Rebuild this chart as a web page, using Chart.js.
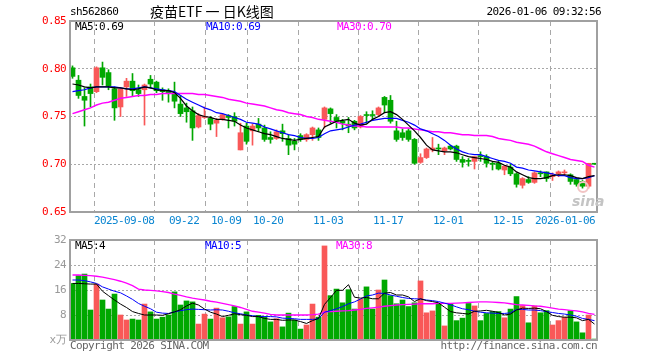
<!DOCTYPE html>
<html>
<head>
<meta charset="utf-8">
<script src="https://cdn.jsdelivr.net/npm/chart.js@4.4.1/dist/chart.umd.min.js"></script>
<style>
  body { margin: 0; background: #fff; }
  #wrap { position: relative; width: 660px; height: 360px; overflow: hidden; }
  canvas { position: absolute; left: 0; }
  #kline { top: 0; }
  #vol { top: 232px; }
  .t { position: absolute; font: 11px 'DejaVu Sans Mono', monospace; letter-spacing: -0.6px;
       white-space: pre; line-height: 12px; color: #000; z-index: 2; }
</style>
</head>
<body>
<div id="wrap">
  <canvas id="kline" width="660" height="240"></canvas>
  <canvas id="vol" width="660" height="128"></canvas>

  <div class="t" style="left:70px;top:6px">sh562860</div>
  <div class="t" style="left:150px;top:3px;font:14px 'Noto Sans CJK SC',sans-serif;letter-spacing:0;line-height:17px">疫苗ETF 一 日K线图</div>
  <div class="t" style="right:59px;top:6px">2026-01-06 09:32:56</div>

  <div class="t" style="left:75px;top:21px">MA5:0.69</div>
  <div class="t" style="left:206px;top:21px;color:#0000ff">MA10:0.69</div>
  <div class="t" style="left:337px;top:21px;color:#ff00ff">MA30:0.70</div>

  <div class="t" style="left:572px;top:193px;font:bold italic 14px 'DejaVu Sans',sans-serif;letter-spacing:0;color:#c4c4c4;line-height:16px">sina</div>
  <div style="position:absolute;left:577px;top:181px;width:8px;height:8px;border:2px solid #f2c4c4;border-radius:50%;z-index:2"></div>

  <div class="t" style="left:75px;top:240px">MA5:4</div>
  <div class="t" style="left:205px;top:240px;color:#0000ff">MA10:5</div>
  <div class="t" style="left:336px;top:240px;color:#ff00ff">MA30:8</div>

  <div class="t" style="left:70px;top:340px;color:#666">Copyright 2026 SINA.COM</div>
  <div class="t" style="right:63px;top:340px;color:#666">http://finance.sina.com.cn</div>
</div>

<script>
// trading days shown on the chart
const dates = [
  '2025-08-26','2025-08-27','2025-08-28','2025-08-29',
  '2025-09-01','2025-09-02','2025-09-03','2025-09-04','2025-09-05',
  '2025-09-08','2025-09-09','2025-09-10','2025-09-11','2025-09-12',
  '2025-09-15','2025-09-16','2025-09-17','2025-09-18','2025-09-19',
  '2025-09-22','2025-09-23','2025-09-24','2025-09-25','2025-09-26',
  '2025-09-29','2025-09-30',
  '2025-10-09','2025-10-10',
  '2025-10-13','2025-10-14','2025-10-15','2025-10-16','2025-10-17',
  '2025-10-20','2025-10-21','2025-10-22','2025-10-23','2025-10-24',
  '2025-10-27','2025-10-28','2025-10-29','2025-10-30','2025-10-31',
  '2025-11-03','2025-11-04','2025-11-05','2025-11-06','2025-11-07',
  '2025-11-10','2025-11-11','2025-11-12','2025-11-13','2025-11-14',
  '2025-11-17','2025-11-18','2025-11-19','2025-11-20','2025-11-21',
  '2025-11-24','2025-11-25','2025-11-26','2025-11-27','2025-11-28',
  '2025-12-01','2025-12-02','2025-12-03','2025-12-04','2025-12-05',
  '2025-12-08','2025-12-09','2025-12-10','2025-12-11','2025-12-12',
  '2025-12-15','2025-12-16','2025-12-17','2025-12-18','2025-12-19',
  '2025-12-22','2025-12-23','2025-12-24','2025-12-25','2025-12-26',
  '2025-12-29','2025-12-30','2025-12-31',
  '2026-01-05','2026-01-06'
];

const openPrices = [
  0.801,0.788,0.771,0.781,0.776,0.801,0.796,0.779,0.760,0.781,
  0.787,0.778,0.778,0.789,0.786,0.778,0.777,0.774,0.763,0.759,
  0.756,0.739,0.749,0.748,0.743,0.747,0.751,0.750,0.715,0.740,
  0.735,0.742,0.738,0.728,0.727,0.735,0.727,0.724,0.730,0.726,
  0.731,0.736,0.747,0.758,0.749,0.745,0.742,0.745,0.739,0.752,
  0.752,0.752,0.770,0.767,0.735,0.733,0.735,0.726,0.702,0.707,
  0.715,0.717,0.714,0.719,0.719,0.705,0.704,0.703,0.709,0.708,
  0.701,0.701,0.694,0.697,0.690,0.678,0.684,0.681,0.691,0.692,
  0.687,0.690,0.691,0.689,0.684,0.682,0.677,0.701
];
const highPrices = [
  0.803,0.793,0.780,0.784,0.802,0.807,0.799,0.781,0.780,0.790,
  0.795,0.783,0.784,0.793,0.787,0.780,0.779,0.786,0.772,0.764,
  0.760,0.753,0.760,0.750,0.748,0.753,0.752,0.754,0.743,0.743,
  0.742,0.748,0.741,0.734,0.736,0.742,0.731,0.727,0.732,0.732,
  0.739,0.738,0.760,0.759,0.752,0.747,0.749,0.746,0.751,0.755,
  0.756,0.760,0.771,0.772,0.745,0.737,0.737,0.727,0.711,0.717,
  0.728,0.721,0.718,0.720,0.720,0.708,0.706,0.708,0.713,0.710,
  0.702,0.703,0.699,0.700,0.691,0.686,0.687,0.692,0.693,0.692,
  0.691,0.693,0.694,0.690,0.685,0.683,0.701,0.701
];
const lowPrices = [
  0.790,0.769,0.740,0.760,0.775,0.783,0.778,0.746,0.750,0.771,
  0.771,0.771,0.741,0.780,0.775,0.767,0.765,0.759,0.750,0.744,
  0.725,0.738,0.748,0.736,0.729,0.746,0.738,0.740,0.715,0.721,
  0.720,0.734,0.724,0.722,0.726,0.724,0.710,0.715,0.724,0.724,
  0.725,0.725,0.738,0.743,0.738,0.736,0.733,0.736,0.738,0.743,
  0.746,0.750,0.754,0.743,0.724,0.725,0.724,0.700,0.701,0.706,
  0.713,0.710,0.710,0.715,0.703,0.697,0.698,0.695,0.703,0.697,
  0.694,0.694,0.689,0.688,0.676,0.675,0.680,0.680,0.687,0.682,
  0.683,0.687,0.688,0.679,0.677,0.675,0.675,0.700
];
const closePrices = [
  0.792,0.772,0.767,0.774,0.801,0.791,0.782,0.759,0.779,0.787,
  0.777,0.774,0.783,0.784,0.777,0.776,0.775,0.766,0.753,0.755,
  0.738,0.751,0.750,0.742,0.746,0.752,0.749,0.745,0.733,0.724,
  0.740,0.738,0.726,0.726,0.734,0.732,0.720,0.721,0.726,0.731,
  0.738,0.728,0.759,0.753,0.745,0.743,0.740,0.738,0.750,0.751,
  0.751,0.759,0.762,0.745,0.726,0.728,0.726,0.701,0.707,0.716,
  0.717,0.716,0.717,0.716,0.705,0.702,0.703,0.708,0.708,0.701,
  0.700,0.695,0.698,0.690,0.679,0.685,0.681,0.691,0.690,0.685,
  0.689,0.692,0.692,0.682,0.679,0.677,0.701,0.700
];

const priceMa5 = [
  0.784,0.783,0.781,0.780,0.781,0.781,0.781,0.780,0.780,0.779,
  0.778,0.779,0.781,0.780,0.778,0.777,0.777,0.775,0.769,0.761,
  0.756,0.752,0.750,0.749,0.747,0.747,0.746,0.745,0.741,0.738,
  0.736,0.734,0.732,0.731,0.729,0.727,0.726,0.725,0.726,0.727,
  0.728,0.729,0.739,0.742,0.745,0.746,0.747,0.743,0.741,0.742,
  0.747,0.750,0.754,0.755,0.752,0.747,0.741,0.735,0.728,0.720,
  0.715,0.714,0.713,0.713,0.712,0.710,0.708,0.707,0.706,0.705,
  0.703,0.702,0.699,0.697,0.692,0.689,0.686,0.685,0.685,0.686,
  0.688,0.689,0.689,0.688,0.686,0.685,0.687,0.688
];
const priceMa10 = [
  0.776,0.777,0.778,0.780,0.781,0.781,0.781,0.781,0.780,0.779,
  0.779,0.780,0.781,0.780,0.779,0.778,0.777,0.776,0.772,0.768,
  0.765,0.762,0.759,0.757,0.754,0.753,0.751,0.749,0.747,0.744,
  0.743,0.742,0.739,0.737,0.735,0.733,0.731,0.730,0.728,0.727,
  0.727,0.728,0.732,0.735,0.736,0.737,0.739,0.741,0.742,0.744,
  0.746,0.747,0.748,0.748,0.748,0.746,0.744,0.741,0.737,0.735,
  0.732,0.729,0.725,0.720,0.716,0.713,0.711,0.710,0.710,0.708,
  0.706,0.704,0.703,0.701,0.697,0.696,0.694,0.693,0.692,0.691,
  0.690,0.688,0.688,0.686,0.685,0.685,0.686,0.688
];
const priceMa30 = [
  0.753,0.755,0.757,0.759,0.762,0.764,0.765,0.767,0.769,0.770,
  0.771,0.772,0.772,0.773,0.773,0.774,0.774,0.774,0.774,0.774,
  0.774,0.773,0.773,0.772,0.771,0.770,0.768,0.767,0.766,0.764,
  0.763,0.762,0.761,0.759,0.757,0.756,0.754,0.753,0.752,0.750,
  0.749,0.747,0.746,0.745,0.744,0.742,0.741,0.740,0.740,0.739,
  0.739,0.739,0.739,0.739,0.739,0.738,0.738,0.737,0.736,0.735,
  0.734,0.734,0.733,0.733,0.732,0.731,0.731,0.730,0.730,0.730,
  0.729,0.727,0.726,0.725,0.723,0.722,0.721,0.719,0.716,0.713,
  0.711,0.709,0.707,0.705,0.704,0.703,0.699,0.697
];

// volume, unit: 10k shares
const volumes = [
  18.1,20.6,21.1,9.6,17.9,12.8,9.9,14.7,8.0,6.4,
  6.7,6.4,11.5,9.0,6.7,7.3,8.0,15.4,11.2,12.5,
  12.2,5.1,8.3,6.7,10.2,7.1,7.4,10.7,5.1,9.0,
  5.1,7.9,7.5,5.8,6.8,4.2,8.6,6.4,3.5,4.8,
  11.5,7.3,30.1,14.2,16.3,11.9,16.1,9.9,13.0,17.0,
  9.9,16.0,19.2,14.2,11.6,12.8,10.7,11.9,18.9,8.7,
  9.3,11.5,4.5,11.7,6.2,7.0,11.7,10.9,6.2,8.5,
  9.1,9.1,7.1,9.9,13.9,11.0,5.5,10.9,8.7,9.4,
  4.8,6.2,7.3,9.4,5.8,2.3,8.0,0.3
];
const volMa5 = [
  18.1,18.1,18.0,17.9,17.9,15.6,14.2,12.8,11.5,10.4,
  9.1,8.5,8.0,8.0,8.0,7.9,8.4,9.0,9.7,10.9,
  11.8,11.2,9.9,8.9,8.3,7.5,7.9,8.4,8.1,7.9,
  7.5,7.5,6.9,6.6,6.6,6.3,6.4,6.4,5.9,5.3,
  6.2,6.9,11.4,13.6,15.9,15.9,17.7,13.7,13.4,13.6,
  13.2,13.2,15.0,15.2,14.4,14.4,13.8,12.3,13.2,12.6,
  12.3,11.9,10.5,9.1,8.7,8.5,8.3,9.2,9.3,9.5,
  9.2,8.8,8.0,8.3,9.6,10.2,10.1,10.2,10.0,9.1,
  7.9,7.5,7.3,7.3,7.1,6.2,6.6,5.1
];
const volMa10 = [
  19.2,19.2,19.0,18.6,18.1,17.0,16.3,15.6,15.1,14.1,
  13.0,11.7,10.8,10.0,8.9,8.6,8.5,9.0,9.4,9.7,
  9.9,9.8,9.7,9.6,9.7,9.6,9.2,8.7,8.4,8.0,
  7.8,7.5,7.5,7.5,7.4,7.0,6.9,6.8,6.6,6.6,
  6.6,6.8,8.9,9.4,10.0,10.7,11.6,12.2,13.1,14.1,
  14.4,15.0,14.9,14.4,14.0,13.6,13.3,13.2,13.1,12.8,
  12.6,12.3,11.8,11.3,10.6,10.0,9.7,9.2,8.9,8.7,
  8.6,8.5,8.5,8.7,9.8,9.8,9.6,9.6,9.4,9.1,
  8.8,8.5,8.3,8.0,7.6,6.9,6.6,6.2
];
const volMa30 = [
  20.8,20.8,20.7,20.6,20.4,20.1,19.7,19.3,18.8,18.2,
  17.4,16.3,16.0,15.9,15.7,15.5,15.2,14.7,14.3,13.8,
  13.4,13.1,12.8,12.4,12.1,11.7,11.3,10.9,10.4,9.8,
  9.2,8.9,8.6,8.2,8.0,8.0,8.0,8.0,8.0,8.0,
  8.1,8.3,9.0,9.1,9.2,9.3,9.4,9.6,9.8,10.1,
  10.3,10.5,10.8,11.0,11.2,11.3,11.4,11.5,11.6,11.6,
  11.6,11.7,11.7,11.7,11.8,11.9,12.0,12.1,12.2,12.2,
  12.1,12.0,11.9,11.6,11.3,11.2,11.1,10.9,10.8,10.5,
  10.2,9.9,9.7,9.5,9.3,9.0,8.5,8.2
];

const tickDates = ['2025-09-08','2025-09-22','2025-10-09','2025-10-20','2025-11-03',
                   '2025-11-17','2025-12-01','2025-12-15','2026-01-06'];
const tickLabels = ['2025-09-08','09-22','10-09','10-20','11-03','11-17','12-01','12-15','2026-01-06'];
const priceTicks = [0.65, 0.70, 0.75, 0.80, 0.85];
const volTicks = [0, 8, 16, 24, 32];

const UP = '#f95858', DOWN = '#00a800';
const GRID = '#a8a8a8';
const MONO = "'DejaVu Sans Mono', monospace";
// one day = 6px; candle centre sits 2.5px right of the plot edge
const X_MIN = -0.4167, X_MAX = 87.4167;
// the dashed day lines run along the left edge of a candle
const tickPos = tickDates.map(d => dates.indexOf(d) - 0.4);

const colors = openPrices.map((o, i) => closePrices[i] >= o ? UP : DOWN);
const pts = arr => arr.map((v, i) => ({ x: i, y: v }));

Chart.defaults.font.family = MONO;
Chart.defaults.animation = false;

const frame = {
  id: 'frame',
  afterDraw(chart) {
    const { ctx, chartArea: a } = chart;
    ctx.save();
    ctx.strokeStyle = '#a0a0a0';
    ctx.lineWidth = 2;
    ctx.strokeRect(a.left, a.top, a.right - a.left, a.bottom - a.top);
    ctx.restore();
  }
};
const tight = {
  id: 'tight',
  beforeUpdate(chart) { chart.ctx.letterSpacing = '-0.6px'; },
  beforeDraw(chart) { chart.ctx.letterSpacing = '-0.6px'; }
};

function xAxis(showLabels) {
  return {
    type: 'linear', min: X_MIN, max: X_MAX, offset: false,
    afterBuildTicks: s => { s.ticks = tickPos.map(v => ({ value: v })); },
    afterFit: s => { s.height = showLabels ? 20 : 0; s.paddingLeft = 0; s.paddingRight = 0; },
    ticks: {
      display: showLabels, autoSkip: false, maxRotation: 0, padding: 3,
      color: '#0b86d1', font: { size: 11 },
      callback: v => {
        const k = tickPos.indexOf(v);
        // last label ends at its line instead of centring on it
        return k === tickLabels.length - 1 ? tickLabels[k] + '         ' : tickLabels[k];
      }
    },
    grid: { color: GRID, lineWidth: 1, drawTicks: false },
    border: { display: false, dash: [5, 4] }
  };
}

function maLine(data, color, width) {
  return { type: 'line', data: pts(data), borderColor: color, borderWidth: width,
           pointRadius: 0, tension: 0, order: 0 };
}

new Chart(document.getElementById('kline'), {
  type: 'bar',
  data: {
    datasets: [
      maLine(priceMa5, '#000000', 1.2),
      maLine(priceMa10, '#0000ff', 1.2),
      maLine(priceMa30, '#ff00ff', 1.5),
      { data: dates.map((d, i) => ({ x: i, y: [openPrices[i], closePrices[i]] })),
        backgroundColor: colors, barThickness: 5, minBarLength: 1, grouped: false, order: 1 },
      { data: dates.map((d, i) => ({ x: i, y: [lowPrices[i], highPrices[i]] })),
        backgroundColor: colors, barThickness: 1, grouped: false, order: 2 }
    ]
  },
  options: {
    responsive: false,
    events: [],
    layout: { padding: { left: 0, right: 63, top: 21, bottom: 8 } },
    plugins: { legend: { display: false }, tooltip: { enabled: false } },
    scales: {
      x: xAxis(true),
      y: {
        min: 0.65, max: 0.85, position: 'left',
        afterBuildTicks: s => { s.ticks = priceTicks.map(v => ({ value: v })); },
        afterFit: s => { s.width = 70; s.paddingTop = 0; s.paddingBottom = 0; },
        ticks: { padding: 4, color: '#ff0000', font: { size: 11 }, callback: v => v.toFixed(2) },
        grid: { color: GRID, drawTicks: false },
        border: { display: false, dash: [2, 2] }
      }
    }
  },
  plugins: [tight, frame]
});

new Chart(document.getElementById('vol'), {
  type: 'bar',
  data: {
    datasets: [
      maLine(volMa5, '#000000', 1),
      maLine(volMa10, '#0000ff', 1),
      maLine(volMa30, '#ff00ff', 1.3),
      { data: pts(volumes), backgroundColor: colors, barThickness: 5, order: 1 }
    ]
  },
  options: {
    responsive: false,
    events: [],
    layout: { padding: { left: 0, right: 63, top: 8, bottom: 20 } },
    plugins: { legend: { display: false }, tooltip: { enabled: false } },
    scales: {
      x: xAxis(false),
      y: {
        min: 0, max: 32, position: 'left',
        afterBuildTicks: s => { s.ticks = volTicks.map(v => ({ value: v })); },
        afterFit: s => { s.width = 70; s.paddingTop = 0; s.paddingBottom = 0; },
        ticks: { padding: 4, color: '#999999', font: { size: 11 },
                 callback: v => v === 0 ? 'x万' : String(v) },
        grid: { color: GRID, drawTicks: false },
        border: { display: false, dash: [2, 2] }
      }
    }
  },
  plugins: [tight, frame]
});
</script>
</body>
</html>
